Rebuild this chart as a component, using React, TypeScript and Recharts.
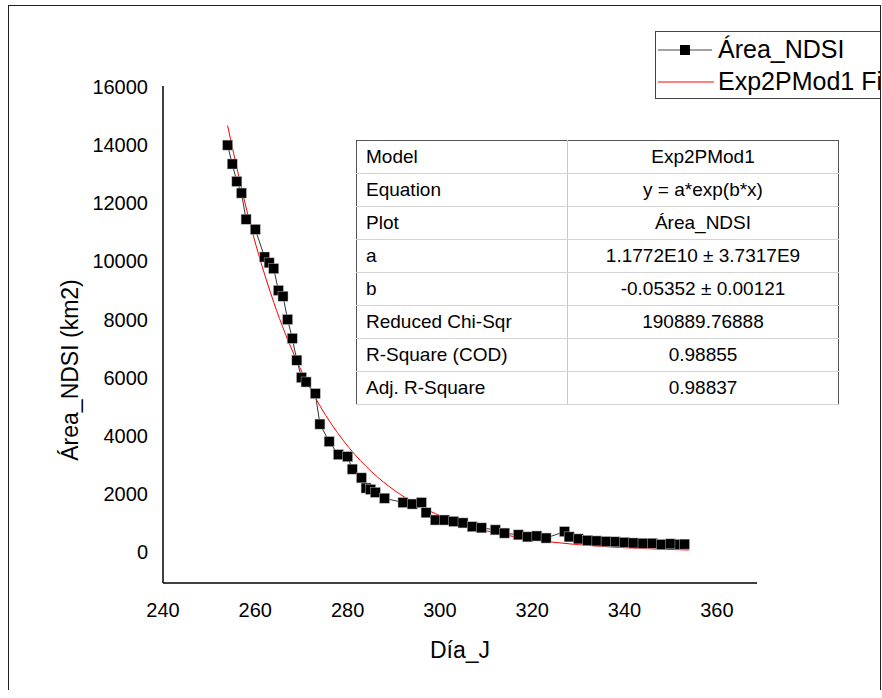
import { ComposedChart, Line, XAxis, YAxis, Legend, Label } from 'recharts'

const days = [
  254, 255, 256, 257, 258, 260, 262, 263, 264, 265, 266, 267, 268, 269, 270, 271, 273, 274, 276, 278,
  280, 281, 283, 284, 285, 286, 288, 292, 294, 296, 297, 299, 301, 303, 305, 307, 309, 312, 314, 317,
  319, 321, 323, 327, 328, 330, 332, 334, 336, 338, 340, 342, 344, 346, 348, 350, 352, 353,
]
const areaNdsi = [
  14000, 13350, 12750, 12350, 11450, 11100, 10150, 9950, 9750, 9000, 8800, 8000, 7350, 6600, 6000, 5850, 5450, 4400, 3800, 3350,
  3280, 2850, 2550, 2200, 2150, 2050, 1850, 1700, 1650, 1700, 1350, 1100, 1100, 1050, 1000, 870, 830, 760, 650, 590,
  520, 550, 480, 700, 520, 450, 400, 380, 360, 350, 330, 310, 300, 300, 260, 280, 260, 270,
]

// fitted curve
const fitDays = [254, 259, 264, 269, 274, 279, 284, 289, 294, 299, 304, 309, 314, 319, 324, 329, 334, 339, 344, 349, 354]
const fitValues = [14670, 11225, 8590, 6573, 5030, 3849, 2945, 2254, 1725, 1320, 1010, 773, 591, 452, 346, 265, 203, 155, 119, 91, 70]

const xTicks = [240, 260, 280, 300, 320, 340, 360]
const yTicks = [0, 2000, 4000, 6000, 8000, 10000, 12000, 14000, 16000]

const tableRows = [
  ['Model', 'Exp2PMod1'],
  ['Equation', 'y = a*exp(b*x)'],
  ['Plot', 'Área_NDSI'],
  ['a', '1.1772E10 ± 3.7317E9'],
  ['b', '-0.05352 ± 0.00121'],
  ['Reduced Chi-Sqr', '190889.76888'],
  ['R-Square (COD)', '0.98855'],
  ['Adj. R-Square', '0.98837'],
]

const font = '"Liberation Sans", Arial, sans-serif'

const areaData = days.map((d, i) => ({ x: d, y: areaNdsi[i] }))
const fitData = fitDays.map((d, i) => ({ x: d, y: fitValues[i] }))

const SquareDot = (props: any) => {
  const { cx, cy, index } = props
  if (cx == null || cy == null) return <g key={index} />
  return <rect key={index} x={cx - 5} y={cy - 5} width={10} height={10} fill="#000" stroke="#bbb" strokeWidth={0.5} />
}

const LegendBox = () => (
  <div
    style={{
      border: '1px solid #444',
      height: 66,
      width: 260,
      fontFamily: font,
      fontSize: 25,
      color: '#000',
      background: '#fff',
      position: 'relative',
    }}
  >
    <div style={{ position: 'absolute', left: 2, top: 3, display: 'flex', alignItems: 'center', whiteSpace: 'nowrap' }}>
      <svg width={56} height={28}>
        <line x1={0} y1={14} x2={54} y2={14} stroke="#444" strokeWidth={1} />
        <rect x={22} y={9} width={10} height={10} fill="#000" />
      </svg>
      <span style={{ marginLeft: 4 }}>Área_NDSI</span>
    </div>
    <div style={{ position: 'absolute', left: 2, top: 35, display: 'flex', alignItems: 'center', whiteSpace: 'nowrap' }}>
      <svg width={56} height={28}>
        <line x1={0} y1={14} x2={56} y2={14} stroke="#ff0000" strokeWidth={1} />
      </svg>
      <span style={{ marginLeft: 4 }}>Exp2PMod1 Fit</span>
    </div>
  </div>
)

export default function App() {
  return (
    <div
      style={{
        position: 'absolute',
        left: 8,
        top: 5,
        boxSizing: 'border-box',
        width: 873,
        height: 685,
        borderLeft: '1px solid #222',
        borderTop: '1px solid #222',
        borderRight: '1px solid #222',
        overflow: 'hidden',
        background: '#fff',
      }}
    >
      <ComposedChart width={871} height={683} margin={{ top: 80, right: 123, bottom: 46, left: 94 }}>
        <XAxis
          dataKey="x"
          type="number"
          domain={[240, 368.7]}
          ticks={xTicks}
          allowDataOverflow
          axisLine={{ stroke: '#000', strokeWidth: 1.5 }}
          tickLine={false}
          tickSize={0}
          tickMargin={20}
          height={60}
          tick={{ fill: '#000', fontSize: 20, fontFamily: font }}
        >
          <Label
            content={() => (
              <text x={451} y={652} textAnchor="middle" fontSize={23} fontFamily={font} fill="#000">
                Día_J
              </text>
            )}
          />
        </XAxis>
        <YAxis
          dataKey="y"
          type="number"
          domain={[-1067, 16034]}
          ticks={yTicks}
          allowDataOverflow
          axisLine={{ stroke: '#000', strokeWidth: 1.5 }}
          tickLine={false}
          tickSize={0}
          tickMargin={15}
          width={60}
          tick={{ fill: '#000', fontSize: 20, fontFamily: font }}
        >
          <Label
            content={() => (
              <text
                transform="translate(69, 364) rotate(-90)"
                textAnchor="middle"
                fontSize={23}
                fontFamily={font}
                fill="#000"
              >
                Área_NDSI (km2)
              </text>
            )}
          />
        </YAxis>
        <Legend
          layout="horizontal"
          verticalAlign="middle"
          align="center"
          content={() => <LegendBox />}
          wrapperStyle={{ left: 646, top: 25, width: 260 }}
        />
        <Line
          data={areaData}
          dataKey="y"
          name="Área_NDSI"
          type="linear"
          stroke="#333"
          strokeWidth={1}
          dot={SquareDot}
          activeDot={false}
          isAnimationActive={false}
        />
        <Line
          data={fitData}
          dataKey="y"
          name="Exp2PMod1 Fit"
          type="monotone"
          stroke="#ff0000"
          strokeWidth={1}
          dot={false}
          activeDot={false}
          isAnimationActive={false}
        />
      </ComposedChart>
      <table
        style={{
          position: 'absolute',
          left: 347,
          top: 134,
          width: 483,
          borderCollapse: 'collapse',
          border: '1px solid #555',
          background: '#fff',
          fontFamily: font,
          fontSize: 19,
          color: '#000',
        }}
      >
        <tbody>
          {tableRows.map(([k, v]) => (
            <tr key={k} style={{ height: 33 }}>
              <td style={{ width: 201, borderBottom: '1px solid #d4d4d4', borderRight: '1px solid #c8c8c8', padding: '0 0 0 9px' }}>
                {k}
              </td>
              <td style={{ textAlign: 'center', borderBottom: '1px solid #d4d4d4', padding: 0 }}>{v}</td>
            </tr>
          ))}
        </tbody>
      </table>
    </div>
  )
}
